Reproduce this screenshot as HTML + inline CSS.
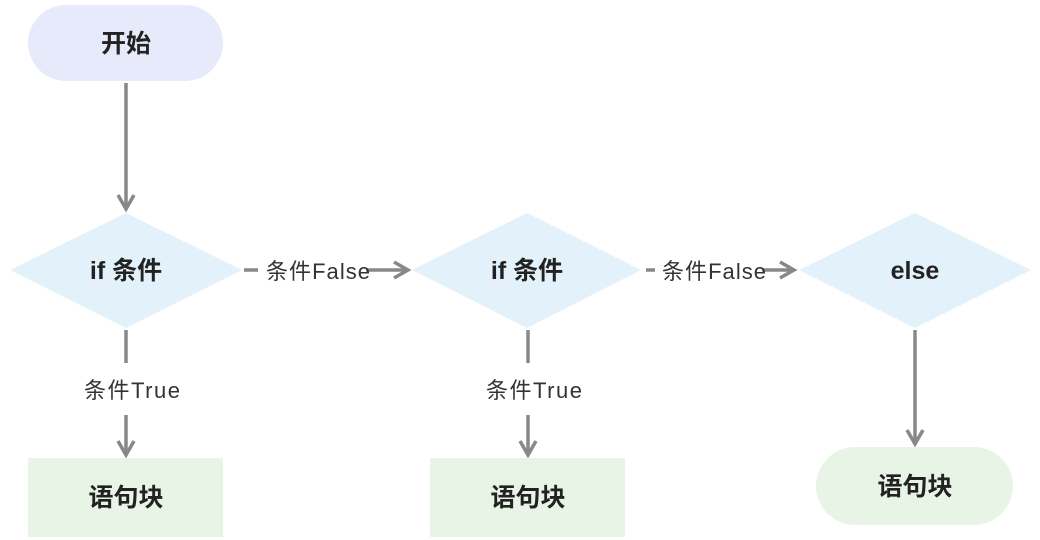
<!DOCTYPE html>
<html><head><meta charset="utf-8"><style>
html,body{margin:0;padding:0;background:#fff;}
svg{display:block;}
text{font-family:"Liberation Sans","Noto Sans CJK SC",sans-serif;}
.b{font-size:25px;font-weight:bold;fill:#222;}
.l{font-size:22px;fill:#333;}
</style></head><body>
<svg width="1040" height="540" viewBox="0 0 1040 540" xmlns="http://www.w3.org/2000/svg">
<g fill="none" stroke="#888" stroke-width="3.5">
<line x1="126" y1="83" x2="126" y2="209"/><polyline points="118,195 126,209 134,195"/>
<line x1="126" y1="330" x2="126" y2="363"/>
<line x1="126" y1="415" x2="126" y2="455"/><polyline points="118,441 126,455 134,441"/>
<line x1="528" y1="330" x2="528" y2="363"/>
<line x1="528" y1="415" x2="528" y2="455"/><polyline points="520,441 528,455 536,441"/>
<line x1="915" y1="330" x2="915" y2="444"/><polyline points="907,430 915,444 923,430"/>
<line x1="244" y1="270" x2="258" y2="270"/>
<line x1="366" y1="270" x2="408" y2="270"/><polyline points="394,262 408,270 394,278"/>
<line x1="646" y1="270" x2="655" y2="270"/>
<line x1="762" y1="270" x2="794" y2="270"/><polyline points="780,262 794,270 780,278"/>
</g>
<rect x="28" y="5" width="195" height="76" rx="38" fill="#e6eafb"/>
<text class="b" x="126" y="52" text-anchor="middle">开始</text>
<polygon points="10,270 126,213 242,270 126,328" fill="#e3f1fa"/>
<text class="b" x="126" y="279" text-anchor="middle">if 条件</text>
<polygon points="412,270 527,213 641,270 527,328" fill="#e3f1fa"/>
<text class="b" x="527" y="279" text-anchor="middle">if 条件</text>
<polygon points="799,270 915,213 1031,270 915,328" fill="#e3f1fa"/>
<text class="b" x="915" y="279" text-anchor="middle">else</text>
<rect x="28" y="458" width="195" height="79" fill="#e8f5e6"/>
<text class="b" x="126" y="506" text-anchor="middle">语句块</text>
<rect x="430" y="458" width="195" height="79" fill="#e8f5e6"/>
<text class="b" x="528" y="506" text-anchor="middle">语句块</text>
<rect x="816" y="447" width="197" height="78" rx="39" fill="#e8f5e6"/>
<text class="b" x="915" y="495" text-anchor="middle">语句块</text>
<text class="l" x="132" y="398" text-anchor="middle" textLength="96">条件True</text>
<text class="l" x="534" y="398" text-anchor="middle" textLength="96">条件True</text>
<text class="l" x="318" y="279" text-anchor="middle" textLength="104">条件False</text>
<text class="l" x="714" y="279" text-anchor="middle" textLength="104">条件False</text>
</svg>
</body></html>
